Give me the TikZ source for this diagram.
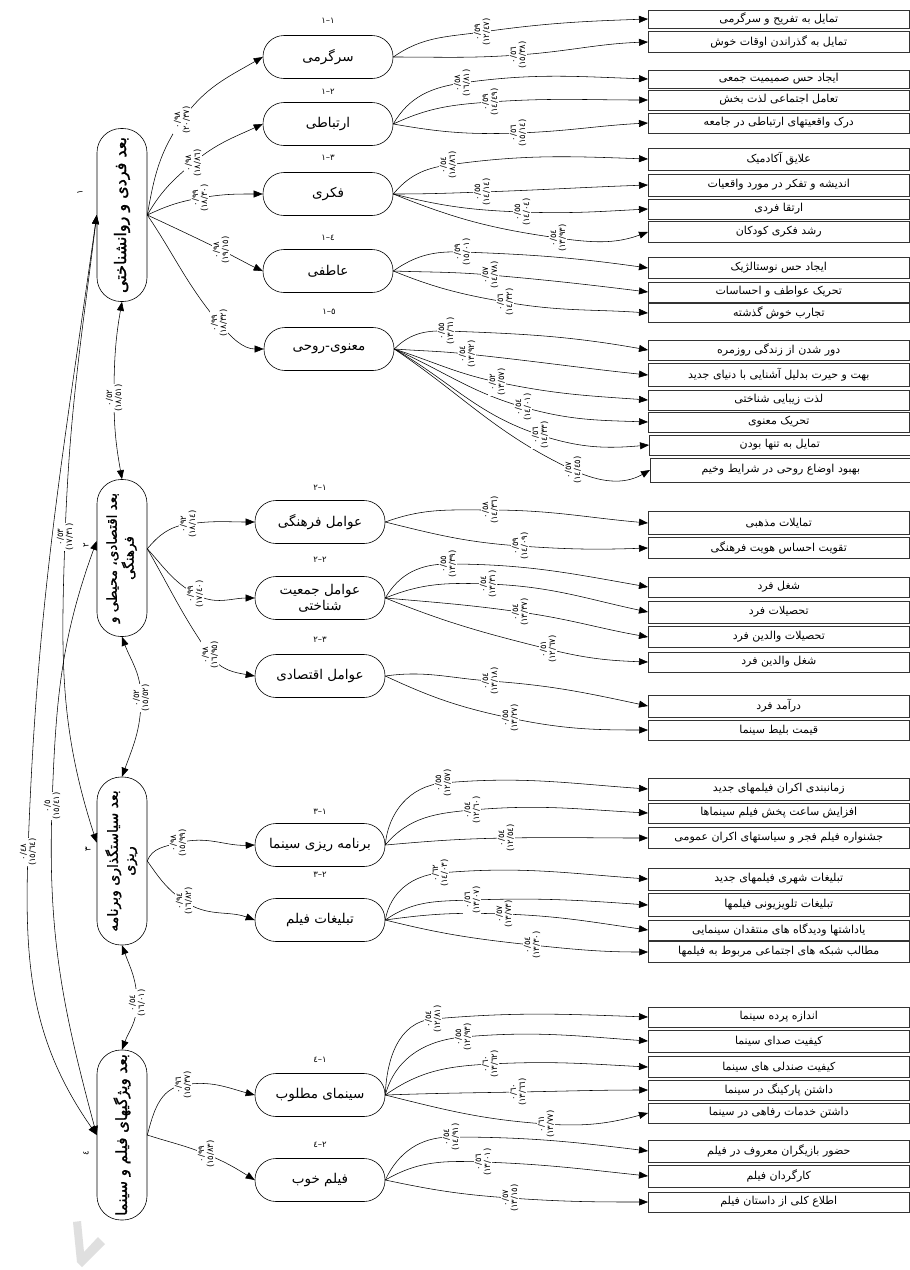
\documentclass[tikz,border=0pt]{standalone}
\usepackage{fontspec}
\usepackage{graphicx}
\usetikzlibrary{arrows.meta}
\TeXXeTstate=1
\newfontfamily\arb[Script=Arabic]{DejaVu Sans}
\newfontfamily\arbB[Script=Arabic,FakeBold=1.5]{DejaVu Sans}
\newcommand\fa[1]{{\arb\beginR #1\endR}}
\newcommand\fab[1]{{\arbB\beginR #1\endR}}
\newcommand\tnum[2]{\hbox{#1}\hbox{–}\hbox{#2}}
\pgfdeclarelayer{fg}
\pgfsetlayers{main,fg}
\newcommand\E[8]{%
  \begin{pgfonlayer}{fg}\node[lab] (#8) at (#4) {#7};\end{pgfonlayer}%
  \pgfmathsetmacro\inone{#3+180}%
  \draw[conn] (#1) to[out=#2,in=\inone] (#8.center) to[out=#3,in=#5] (#6);}
\begin{document}
\begin{tikzpicture}[x=1pt,y=-1pt,
  dim/.style={draw, line width=0.6pt, rounded corners=24pt, minimum width=50pt, inner sep=0pt},
  sub/.style={draw, line width=0.6pt, rounded corners=21pt, minimum width=130pt, minimum height=43pt, inner sep=0pt, align=center, font=\arb\fontsize{13.5}{16}\selectfont},
  item/.style={draw=black!80, line width=0.6pt, anchor=west, minimum width=261pt, minimum height=21pt, inner sep=0pt, font=\arb\fontsize{11}{12}\selectfont},
  lab/.style={fill=white, rotate=90, align=center, inner sep=0.6pt, font=\arb\fontsize{8.5}{9}\selectfont},
  ttl/.style={font=\arb\fontsize{8.5}{9}\selectfont, inner sep=0pt},
  conn/.style={line width=0.55pt, -{Triangle[length=9pt,width=7pt]}},
  both/.style={line width=0.55pt, {Triangle[length=9pt,width=7pt]}-{Triangle[length=9pt,width=7pt]}}]
\useasboundingbox (0,0) rectangle (910,1270);
\fill[white] (0,0) rectangle (910,1270);
% watermark
\fill[gray!25] (73,1222) -- (81,1221) -- (84,1252) -- (98,1237) -- (105,1244) -- (82,1267) -- (77,1262) -- cycle;
% dimension boxes
\node[dim, minimum height=173pt, font=\fontsize{16}{18}\selectfont] (b1) at (122,215) {\rotatebox{90}{\fab{بعد فردی و روانشناختی}}};
\node[dim, minimum height=157pt, font=\fontsize{13.5}{16}\selectfont] (b2) at (122,558) {\rotatebox{90}{\begin{tabular}{@{}c@{}}\fab{بعد اقتصادی، محیطی و}\\\fab{فرهنگی}\end{tabular}}};
\node[dim, minimum height=168pt, font=\fontsize{14}{16}\selectfont] (b3) at (122,861) {\rotatebox{90}{\begin{tabular}{@{}c@{}}\fab{بعد سیاستگذاری وبرنامه}\\\fab{ریزی}\end{tabular}}};
\node[dim, minimum height=170pt, font=\fontsize{15}{17}\selectfont] (b4) at (122,1135) {\rotatebox{90}{\fab{بعد ویژگیهای فیلم و سینما}}};
\node[ttl, rotate=90] (n1) at (80,192) {١};
\node[ttl, rotate=90] (n2) at (86,545) {٢};
\node[ttl, rotate=90] (n3) at (88,849) {٣};
\node[ttl, rotate=90] (n4) at (86,1153) {٤};
% second level
\node[sub] (g11) at (328,57) {\fa{سرگرمی}};
\node[sub] (g12) at (328,124) {\fa{ارتباطی}};
\node[sub] (g13) at (328,194) {\fa{فکری}};
\node[sub] (g14) at (328,271) {\fa{عاطفی}};
\node[sub] (g15) at (329,349) {\fa{معنوی-روحی}};
\node[sub] (g21) at (320,522) {\fa{عوامل فرهنگی}};
\node[sub] (g22) at (320,598) {\fa{عوامل جمعیت}\\\fa{شناختی}};
\node[sub] (g23) at (320,676) {\fa{عوامل اقتصادی}};
\node[sub] (g31) at (320,845) {\fa{برنامه ریزی سینما}};
\node[sub] (g32) at (320,920) {\fa{تبلیغات  فیلم}};
\node[sub] (g41) at (320,1095) {\fa{سینمای مطلوب}};
\node[sub] (g42) at (320,1180) {\fa{فیلم خوب}};
\node[ttl] (t11) at (328,21) {\tnum{١}{١}};
\node[ttl] (t12) at (328,92) {\tnum{١}{٢}};
\node[ttl] (t13) at (328,158) {\tnum{١}{٣}};
\node[ttl] (t14) at (328,238) {\tnum{١}{٤}};
\node[ttl] (t15) at (329,312) {\tnum{١}{٥}};
\node[ttl] (t21) at (320,488) {\tnum{٢}{١}};
\node[ttl] (t22) at (320,560) {\tnum{٢}{٢}};
\node[ttl] (t23) at (320,640) {\tnum{٢}{٣}};
\node[ttl] (t31) at (320,812) {\tnum{٣}{١}};
\node[ttl] (t32) at (320,875) {\tnum{٣}{٢}};
\node[ttl] (t41) at (320,1060) {\tnum{٤}{١}};
\node[ttl] (t42) at (320,1145) {\tnum{٤}{٢}};
% items
\node[item, minimum height=18pt] (r1) at (648,19) {\fa{تمایل به تفریح و سرگرمی}};
\node[item] (r2) at (648,42) {\fa{تمایل به گذراندن اوقات خوش}};
\node[item, minimum height=18pt] (r3) at (648,79) {\fa{ایجاد حس صمیمیت جمعی}};
\node[item, minimum height=20pt] (r4) at (648,100) {\fa{تعامل اجتماعی لذت بخش}};
\node[item, minimum height=20pt] (r5) at (648,123) {\fa{درک واقعیتهای ارتباطی در جامعه}};
\node[item, minimum height=22pt] (r6) at (648,159) {\fa{علایق آکادمیک}};
\node[item, minimum height=22pt] (r7) at (648,185) {\fa{اندیشه و تفکر در مورد واقعیات}};
\node[item, minimum height=20pt] (r8) at (648,209) {\fa{ارتقا فردی}};
\node[item] (r9) at (648,232) {\fa{رشد فکری کودکان}};
\node[item] (r10) at (648,268) {\fa{ایجاد حس نوستالژیک}};
\node[item, minimum height=20pt] (r11) at (648,292) {\fa{تحریک عواطف و احساسات}};
\node[item, minimum height=19pt] (r12) at (648,313) {\fa{تجارب خوش گذشته}};
\node[item, minimum height=20pt] (r13) at (648,350) {\fa{دور شدن از زندگی روزمره}};
\node[item, minimum height=23pt] (r14) at (648,375) {\fa{بهت و حیرت بدلیل آشنایی با دنیای جدید}};
\node[item, minimum height=20pt] (r15) at (648,400) {\fa{لذت زیبایی شناختی}};
\node[item, minimum height=20pt] (r16) at (648,422) {\fa{تحریک معنوی}};
\node[item, minimum height=20pt] (r17) at (649,445) {\fa{تمایل به تنها بودن}};
\node[item, minimum height=24pt] (r18) at (650,470) {\fa{بهبود اوضاع روحی در شرایط وخیم}};
\node[item, minimum height=23pt] (r19) at (648,523) {\fa{تمایلات مذهبی}};
\node[item] (r20) at (648,548) {\fa{تقویت احساس هویت فرهنگی}};
\node[item, minimum height=20pt] (r21) at (648,587) {\fa{شغل فرد}};
\node[item, minimum height=22pt] (r22) at (648,612) {\fa{تحصیلات فرد}};
\node[item] (r23) at (648,637) {\fa{تحصیلات والدین فرد}};
\node[item, minimum height=20pt] (r24) at (648,662) {\fa{شغل والدین فرد}};
\node[item, minimum height=22pt] (r25) at (648,706) {\fa{درآمد فرد}};
\node[item, minimum height=20pt] (r26) at (648,730) {\fa{قیمت بلیط سینما}};
\node[item, minimum height=22pt] (r27) at (648,789) {\fa{زمانبندی اکران فیلمهای جدید}};
\node[item, minimum height=20pt] (r28) at (648,813) {\fa{افزایش ساعت پخش فیلم سینماها}};
\node[item] (r29) at (648,838) {\fa{جشنواره فیلم فجر و سیاستهای اکران عمومی}};
\node[item, minimum height=22pt] (r30) at (648,879) {\fa{تبلیغات شهری فیلمهای جدید}};
\node[item, minimum height=23pt] (r31) at (648,905) {\fa{تبلیغات تلویزیونی فیلمها}};
\node[item, minimum height=20pt] (r32) at (648,930) {\fa{یاداشتها ودیدگاه های منتقدان سینمایی}};
\node[item] (r33) at (648,952) {\fa{مطالب شبکه های اجتماعی مربوط به فیلمها}};
\node[item, minimum height=20pt] (r34) at (648,1017) {\fa{اندازه پرده سینما}};
\node[item, minimum height=22pt] (r35) at (648,1041) {\fa{کیفیت صدای سینما}};
\node[item] (r36) at (648,1067) {\fa{کیفیت صندلی های سینما}};
\node[item, minimum height=20pt] (r37) at (648,1090) {\fa{داشتن پارکینگ در سینما}};
\node[item, minimum height=20pt] (r38) at (648,1113) {\fa{داشتن خدمات رفاهی در سینما}};
\node[item, minimum height=22pt] (r39) at (648,1151) {\fa{حضور بازیگران معروف در فیلم}};
\node[item, minimum height=22pt] (r40) at (648,1176) {\fa{کارگردان فیلم}};
\node[item, minimum height=20pt] (r41) at (648,1202) {\fa{اطلاع کلی از داستان فیلم}};
% group -> item edges
\E{g11.east}{35}{8}{482,32}{182}{r1.west}{٠/٥٩\\(١٢/٤٧)}{l1}
\E{g11.east}{0}{4}{518,55}{182}{r2.west}{٠/٥٦\\(١٥/٣٨)}{l2}
\E{g12.east}{60}{8}{462,83}{178}{r3.west}{٠/٥٨\\(١٦/٨١)}{l3}
\E{g12.east}{25}{4}{490,102}{180}{r4.west}{٠/٥٩\\(١٤/٤٩)}{l4}
\E{g12.east}{-10}{2}{518,133}{183}{r5.west}{٠/٥٦\\(١٥/١٤)}{l5}
\E{g13.east}{50}{8}{448,165}{178}{r6.west}{٠/٥٤\\(١٨/٨٦)}{l6}
\E{g13.east}{0}{2}{482,192}{182}{r7.west}{٠/٥٥\\(١٤/١٤)}{l7}
\E{g13.east}{-14}{-2}{522,212}{183}{r8.west}{٠/٥٥\\(١٤/٠٤)}{l8}
\E{g13.east}{-22}{-8}{558,238}{200}{r9.west}{٠/٥٤\\(١٣/٩٣)}{l9}
\E{g14.east}{35}{-2}{462,252}{172}{r10.west}{٠/٥٩\\(١٥/٠١)}{l10}
\E{g14.east}{-2}{-5}{490,275}{173}{r11.west}{٠/٥٧\\(١٤/٧٨)}{l11}
\E{g14.east}{-22}{-10}{505,302}{176}{r12.west}{٠/٥٦\\(١٤/٣٢)}{l12}
\E{g15.east}{45}{-2}{446,331}{170}{r13.west}{٠/٥٥\\(١٣/٦١)}{l13}
\E{g15.east}{-4}{-6}{467,354}{174}{r14.west}{٠/٥٤\\(١٣/٩٢)}{l14}
\E{g15.east}{-18}{-12}{497,382}{176}{r15.west}{٠/٥٢\\(١٣/٥٧)}{l15}
\E{g15.east}{-24}{-16}{523,407}{178}{r16.west}{٠/٥٤\\(١٤/٠١)}{l16}
\E{g15.east}{-30}{-18}{540,435}{185}{r17.west}{٠/٥٦\\(١٤/٣٣)}{l17}
\E{g15.east}{-34}{-25}{573,470}{210}{r18.west}{٠/٥٧\\(١٤/٤٥)}{l18}
\E{g21.east}{20}{0}{490,510}{175}{r19.west}{٠/٥٨\\(١٤/٣٦)}{l19}
\E{g21.east}{-14}{-4}{520,546}{182}{r20.west}{٠/٥٩\\(١٤/٠٩)}{l20}
\E{g22.east}{60}{0}{448,564}{170}{r21.west}{٠/٥٥\\(١٣/٣٩)}{l21}
\E{g22.east}{22}{-2}{488,584}{168}{r22.west}{٠/٥٤\\(١٣/٣١)}{l22}
\E{g22.east}{-5}{-8}{520,612}{170}{r23.west}{٠/٥٤\\(١٣/٣٧)}{l23}
\E{g22.east}{-22}{-14}{548,649}{178}{r24.west}{٠/٥١\\(١٢/٦٧)}{l24}
\E{g23.east}{8}{-4}{490,681}{168}{r25.west}{٠/٥٤\\(١٣/١٨)}{l25}
\E{g23.east}{-25}{-12}{510,718}{180}{r26.west}{٠/٥٥\\(١٣/٢٧)}{l26}
\E{g31.east}{85}{5}{443,783}{176}{r27.west}{٠/٥٥\\(١٢/٥٧)}{l27}
\E{g31.east}{50}{5}{472,810}{177}{r28.west}{٠/٥٤\\(١٢/٦٠)}{l28}
\E{g31.east}{5}{1}{506,838}{180}{r29.west}{٠/٥٤\\(١٢/٥٤)}{l29}
\E{g32.east}{80}{5}{440,873}{176}{r30.west}{٠/٦٢\\(١٤/٠٣)}{l30}
\E{g32.east}{35}{2}{472,900}{176}{r31.west}{٠/٥٦\\(١٣/٠٧)}{l31}
\E{g32.east}{8}{-2}{504,914}{172}{r32.west}{٠/٥٧\\(١٣/٧٣)}{l32}
\E{g32.east}{-14}{-6}{532,945}{180}{r33.west}{٠/٥٤\\(١٣/٣٠)}{l33}
\E{g41.east}{88}{5}{433,1019}{178}{r34.west}{٠/٥٤\\(١٢/٨١)}{l34}
\E{g41.east}{75}{5}{463,1037}{176}{r35.west}{٠/٥٥\\(١٢/٩٣)}{l35}
\E{g41.east}{35}{3}{490,1064}{177}{r36.west}{٠/٦٠\\(١٣/٦٢)}{l36}
\E{g41.east}{2}{1}{518,1092}{180}{r37.west}{٠/٦٠\\(١٣/٦٦)}{l37}
\E{g41.east}{-14}{-4}{546,1124}{195}{r38.west}{٠/٦١\\(١٣/٧٧)}{l38}
\E{g42.east}{65}{0}{451,1137}{173}{r39.west}{٠/٥٤\\(١٤/٩١)}{l39}
\E{g42.east}{30}{-2}{483,1162}{174}{r40.west}{٠/٥٦\\(١٣/٠١)}{l40}
\E{g42.east}{-12}{-4}{510,1198}{180}{r41.west}{٠/٥٧\\(١٣/١٥)}{l41}
% dimension -> group edges
\E{b1.east}{80}{55}{182,120}{210}{g11.west}{٠/٩٨\\(٢٠/٣٧)}{k1}
\E{b1.east}{60}{40}{193,163}{205}{g12.west}{٠/٩٨\\(١٨/٨٦)}{k2}
\E{b1.east}{25}{10}{200,198}{180}{g13.west}{٠/٩٩\\(١٨/٣٠)}{k3}
\E{b1.east}{-25}{-26}{221,250}{155}{g14.west}{٠/٩٨\\(١٩/١٥)}{k4}
\E{b1.east}{-56}{-50}{219,323}{180}{g15.west}{٠/٩٩\\(١٨/٣٢)}{k5}
\E{b2.20}{50}{8}{188,524}{180}{g21.west}{٠/٩٢\\(١٨/١٤)}{k6}
\E{b2.20}{-48}{-30}{195,594}{180}{g22.west}{٠/٩٩\\(١٧/٤٠)}{k7}
\E{b2.20}{-60}{-55}{210,655}{170}{g23.west}{٠/٩٨\\(١٦/٩٥)}{k8}
\E{b3.east}{70}{15}{178,843}{182}{g31.west}{٠/٩٨\\(١٥/٩٩)}{k9}
\E{b3.east}{-55}{-35}{184,901}{160}{g32.west}{٠/٩٤\\(١٦/٨٢)}{k10}
\E{b4.east}{75}{10}{183,1085}{165}{g41.west}{٠/٩٦\\(١٥/٣٧)}{k11}
\E{b4.east}{-18}{-22}{206,1154}{148}{g42.west}{٠/٩٩\\(١٥/٨٣)}{k12}
% correlations between dimensions
\begin{pgfonlayer}{fg}
\node[lab] (m1) at (114,398) {٠/٥٢\\(١٨/٥١)};
\node[lab] (m2) at (141,698) {٠/٥٢\\(١٥/٥٢)};
\node[lab] (m3) at (137,1003) {٠/٥٤\\(١٦/٠١)};
\node[lab] (ma) at (65,537) {٠/٥٣\\(١٧/٣١)};
\node[lab] (mb) at (52,806) {٠/٥\\(١٥/٤١)};
\node[lab] (mc) at (28,852) {٠/٤٨\\(١٥/٦٤)};
\end{pgfonlayer}
\draw[both] (b1.south) to[out=-100,in=90] (m1.center) to[out=-90,in=100] (b2.north);
\draw[both] (b2.south) to[out=-70,in=90] (m2.center) to[out=-90,in=70] (b3.north);
\draw[both] (b3.south) to[out=-70,in=90] (m3.center) to[out=-90,in=70] (b4.north);
\draw[both] (b1.west) to[out=-97,in=88] (ma.center) to[out=-92,in=108] (b3.144);
\draw[both] (b2.146) to[out=-110,in=88] (mb.center) to[out=-92,in=105] (b4.west);
\draw[both] (b1.west) to[out=-98,in=88] (mc.center) to[out=-92,in=125] (b4.west);
\end{tikzpicture}
\end{document}
